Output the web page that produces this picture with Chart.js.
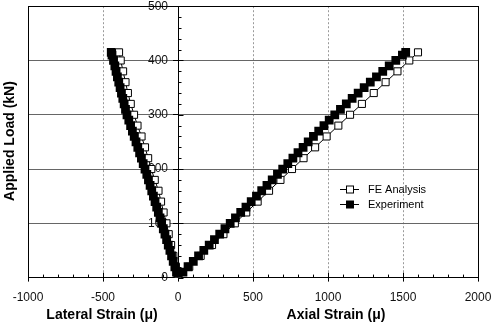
<!DOCTYPE html>
<html>
<head>
<meta charset="utf-8">
<script src="https://cdn.jsdelivr.net/npm/chart.js@4.4.1/dist/chart.umd.min.js"></script>
<style>
  html, body { margin: 0; padding: 0; background: #fff; }
  #chart { display: block; }
</style>
</head>
<body>
<canvas id="chart" width="495" height="322"></canvas>
<script>
// loads (kN) and strains (micro)
const feLoad = [0, 20, 40, 60, 80, 100, 120, 140, 160, 180, 200, 220, 240, 260, 280, 300, 320, 340, 360, 380, 400, 415];
const feLateral = [0, -14, -31, -46, -62, -77, -96, -113, -130, -155, -178, -199, -220, -243, -270, -293, -315, -334, -350, -366, -382, -393];
const feAxial = [0, 75, 151, 227, 303, 379, 455, 531, 607, 683, 760, 837, 914, 991, 1069, 1147, 1226, 1305, 1384, 1463, 1542, 1600];

const expLoad = [0, 10, 20, 30, 40, 50, 60, 70, 80, 90, 100, 110, 120, 130, 140, 150, 160, 170, 180, 190, 200,
  210, 220, 230, 240, 250, 260, 270, 280, 290, 300, 310, 320, 330, 340, 350, 360, 370, 380, 390, 400, 410, 415];
const expLateral = [0, -10, -21, -32, -43, -54, -65, -76, -87, -98, -109, -120, -131, -142, -153, -164, -175, -186, -197, -208, -220,
  -232, -244, -256, -268, -280, -292, -304, -316, -328, -340, -350, -359, -368, -377, -386, -395, -404, -413, -421, -430, -440, -445];
const expAxial = [0, 33, 67, 102, 137, 172, 208, 243, 278, 313, 348, 383, 418, 453, 488, 523, 558, 593, 628, 663, 698,
  732, 766, 800, 834, 868, 903, 938, 973, 1008, 1045, 1083, 1122, 1161, 1201, 1241, 1282, 1323, 1365, 1408, 1452, 1496, 1518];

const xTickValues = [-1000, -500, 0, 500, 1000, 1500, 2000];
const yTickValues = [0, 100, 200, 300, 400, 500];
const seriesNames = ['FE Analysis', 'Experiment'];

const FONT = 'Liberation Sans, Arial, sans-serif';

function pts(xs, ys) {
  return xs.map((x, i) => ({ x: x, y: ys[i] }));
}

// axis decorations, titles and the legend box
const decorPlugin = {
  id: 'decor',
  beforeDatasetsDraw(chart) {
    const c = chart.ctx, a = chart.chartArea;
    const xs = chart.scales.x, ys = chart.scales.y;
    const x0 = Math.round(xs.getPixelForValue(0)) + 0.5;
    c.save();
    c.strokeStyle = '#000';
    c.lineWidth = 1;
    c.beginPath();
    // minor ticks on the x axis, pointing up
    for (let v = -1000; v <= 2000; v += 100) {
      const px = Math.round(xs.getPixelForValue(v)) + 0.5;
      const len = v % 500 === 0 ? 5 : 3;
      c.moveTo(px, a.bottom);
      c.lineTo(px, a.bottom - len);
    }
    // minor ticks on the y axis, pointing right
    for (let v = 0; v <= 500; v += 20) {
      const py = Math.round(ys.getPixelForValue(v)) + 0.5;
      c.moveTo(x0, py);
      c.lineTo(x0 + (v % 100 === 0 ? 5 : 3), py);
    }
    c.stroke();
    // frame
    c.strokeRect(Math.round(a.left) + 0.5, Math.round(a.top) + 0.5,
      Math.round(a.right - a.left), Math.round(a.bottom - a.top));
    c.restore();
  },
  afterDraw(chart) {
    const c = chart.ctx, a = chart.chartArea;
    c.save();
    c.fillStyle = '#000';
    c.font = 'bold 14px ' + FONT;
    c.textAlign = 'center';
    c.textBaseline = 'middle';
    c.fillText('Lateral Strain (\u03bc)', 102, 315);
    c.fillText('Axial Strain (\u03bc)', 336, 315);
    c.translate(10, 141);
    c.rotate(-Math.PI / 2);
    c.fillText('Applied Load (kN)', 0, 0);
    c.restore();

    // legend
    c.save();
    const lx = a.left + 312, ly = 189.5;
    c.font = '11px ' + FONT;
    c.textAlign = 'left';
    c.textBaseline = 'middle';
    seriesNames.forEach((name, i) => {
      const y = ly + i * 15;
      c.strokeStyle = '#000';
      c.lineWidth = 1;
      c.beginPath();
      c.moveTo(lx, y);
      c.lineTo(lx + 19, y);
      c.stroke();
      if (i === 0) {
        c.fillStyle = '#fff';
        c.fillRect(lx + 6.5, y - 3.5, 7, 7);
        c.strokeRect(lx + 6.5, y - 3.5, 7, 7);
      } else {
        c.fillStyle = '#000';
        c.fillRect(lx + 6, y - 4, 8, 8);
      }
      c.fillStyle = '#000';
      c.fillText(name, lx + 28, y + 0.5);
    });
    c.restore();
  }
};

const feStyle = {
  showLine: true,
  borderColor: '#000',
  borderWidth: 1,
  pointStyle: 'rect',
  pointRadius: 5,
  pointBackgroundColor: '#fff',
  pointBorderColor: '#000',
  pointBorderWidth: 1
};
const expStyle = {
  showLine: true,
  borderColor: '#000',
  borderWidth: 1,
  pointStyle: 'rect',
  pointRadius: 6.2,
  pointBackgroundColor: '#000',
  pointBorderColor: '#000',
  pointBorderWidth: 0
};

const noPad = s => { s.paddingTop = 0; s.paddingBottom = 0; s.paddingLeft = 0; s.paddingRight = 0; };

new Chart(document.getElementById('chart'), {
  type: 'scatter',
  data: {
    datasets: [
      Object.assign({ label: seriesNames[1], data: pts(expLateral, expLoad) }, expStyle),
      Object.assign({ label: seriesNames[1], data: pts(expAxial, expLoad) }, expStyle),
      Object.assign({ label: seriesNames[0], data: pts(feLateral, feLoad) }, feStyle),
      Object.assign({ label: seriesNames[0], data: pts(feAxial, feLoad) }, feStyle)
    ]
  },
  options: {
    responsive: false,
    animation: false,
    layout: { padding: { left: 28, right: 17, top: 6, bottom: 8 } },
    plugins: {
      legend: { display: false },
      tooltip: { enabled: false }
    },
    scales: {
      x: {
        type: 'linear',
        position: 'bottom',
        min: -1000,
        max: 2000,
        afterBuildTicks: s => { s.ticks = xTickValues.map(v => ({ value: v })); },
        afterFit: noPad,
        ticks: { color: '#111', font: { family: FONT, size: 12 }, padding: 9, maxRotation: 0,
          callback: v => String(v) },
        grid: {
          color: ctx => (ctx.tick && [-500, 500, 1000, 1500].includes(ctx.tick.value)) ? '#9a9a9a' : 'rgba(0,0,0,0)',
          tickColor: '#000',
          tickLength: 4
        },
        border: { display: true, color: '#000', width: 1, dash: [2, 2] }
      },
      y: {
        type: 'linear',
        position: { x: 0 },
        min: 0,
        max: 500,
        afterBuildTicks: s => { s.ticks = yTickValues.map(v => ({ value: v })); },
        afterFit: noPad,
        ticks: { color: '#111', font: { family: FONT, size: 12 }, padding: 6,
          callback: v => String(v) + '   ' },
        grid: {
          color: ctx => (ctx.tick && ctx.tick.value > 0 && ctx.tick.value < 500) ? '#666' : 'rgba(0,0,0,0)',
          tickColor: '#000',
          tickLength: 5
        },
        border: { display: true, color: '#000', width: 1 }
      }
    }
  },
  plugins: [decorPlugin]
});
</script>
</body>
</html>
